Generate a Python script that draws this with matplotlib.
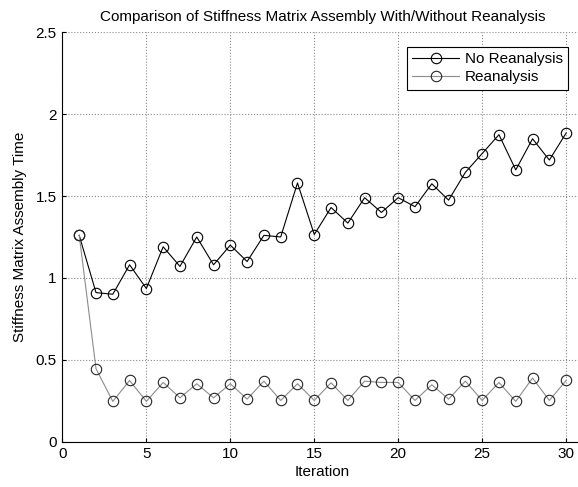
import matplotlib
matplotlib.use('Agg')
import matplotlib.pyplot as plt

# data
iterations = list(range(1, 31))
no_reanalysis = [1.26, 0.91, 0.90, 1.08, 0.935, 1.19, 1.07, 1.25, 1.08, 1.20,
                 1.10, 1.26, 1.25, 1.58, 1.265, 1.43, 1.335, 1.49, 1.40, 1.49,
                 1.435, 1.575, 1.475, 1.645, 1.76, 1.875, 1.66, 1.85, 1.72, 1.885]
reanalysis = [1.26, 0.445, 0.245, 0.373, 0.245, 0.361, 0.267, 0.353, 0.267, 0.353,
              0.259, 0.369, 0.251, 0.353, 0.251, 0.359, 0.251, 0.369, 0.361, 0.361,
              0.251, 0.347, 0.259, 0.369, 0.251, 0.361, 0.245, 0.388, 0.251, 0.373]

plt.rcParams['font.family'] = ['Liberation Sans', 'DejaVu Sans']
plt.rcParams['font.size'] = 11

fig = plt.figure(figsize=(5.78, 4.87), dpi=100)
# axes runs a little past the right edge, as in the reference
ax = fig.add_axes([0.108, 0.0934, 0.9005, 0.840])

ax.plot(iterations, no_reanalysis, color='black', lw=0.8, marker='o', ms=7.5,
        mfc='none', mec='black', mew=0.8, label='No Reanalysis')
ax.plot(iterations, reanalysis, color='0.55', lw=0.8, marker='o', ms=7.5,
        mfc='none', mec='0.15', mew=0.8, label='Reanalysis')

ax.set_xlim(0, 31)
ax.set_ylim(0, 2.5)
ax.set_xticks([0, 5, 10, 15, 20, 25, 30])
ax.set_yticks([0, 0.5, 1, 1.5, 2, 2.5])
ax.set_yticklabels(['0', '0.5', '1', '1.5', '2', '2.5'])
ax.grid(True, color='0.55', linestyle=':', linewidth=0.8)
ax.tick_params(direction='in', length=3, top=False, right=False, pad=4)
ax.spines['top'].set_visible(False)
ax.spines['right'].set_visible(False)

ax.set_title('Comparison of Stiffness Matrix Assembly With/Without Reanalysis', fontsize=11, pad=8)
ax.set_xlabel('Iteration', fontsize=11, labelpad=3)
ax.set_ylabel('Stiffness Matrix Assembly Time', fontsize=11, labelpad=6)

leg = ax.legend(loc='upper right', bbox_to_anchor=(0.986, 0.983), fancybox=False,
                edgecolor='black', framealpha=1, fontsize=11, handlelength=3.1,
                handletextpad=0.35, borderpad=0.35, labelspacing=0.25)
leg.get_frame().set_linewidth(0.8)

fig.savefig('out.png', dpi=100)
